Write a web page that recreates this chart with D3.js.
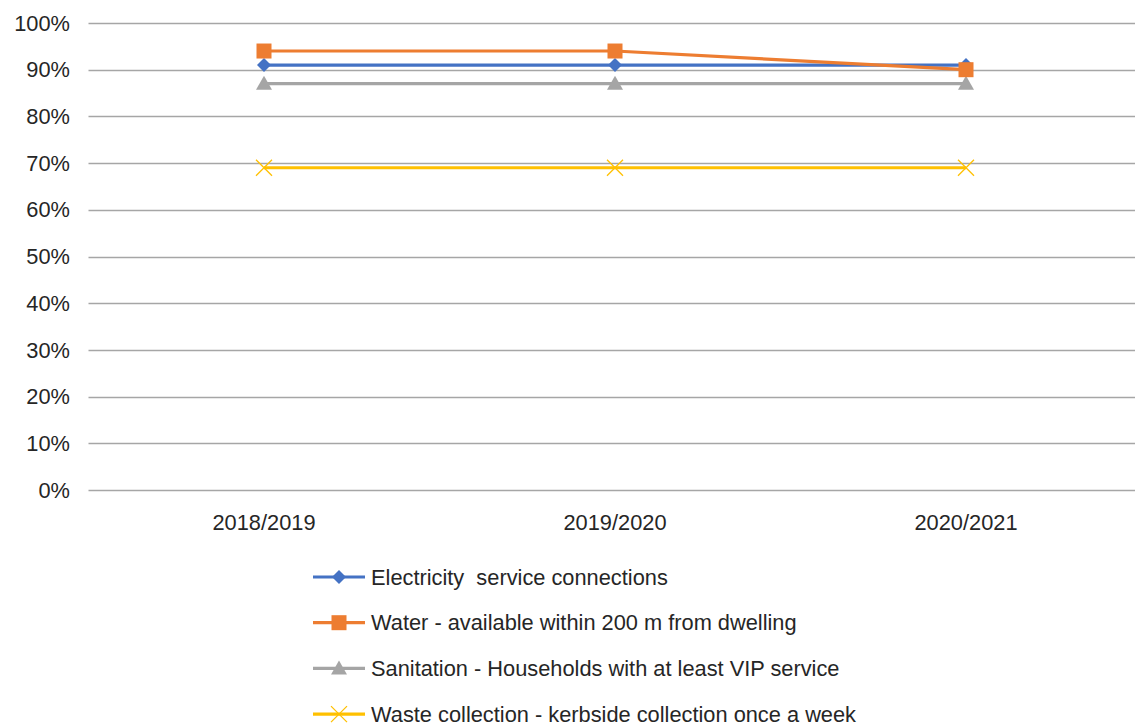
<!DOCTYPE html>
<html>
<head>
<meta charset="utf-8">
<script src="https://cdn.jsdelivr.net/npm/d3@7"></script>
<style>
  body { margin: 0; background: #fff; }
  svg text { font-family: "Liberation Sans", Arial, sans-serif; fill: #262626; }
</style>
</head>
<body>
<div id="chart-container"></div>
<script>
const years = ['2018/2019', '2019/2020', '2020/2021'];
const yTicks = [0, 10, 20, 30, 40, 50, 60, 70, 80, 90, 100];

const electricity = [91, 91, 91];
const water = [94, 94, 90];
const sanitation = [87, 87, 87];
const waste = [69, 69, 69];

const seriesNames = [
  'Electricity  service connections',
  'Water - available within 200 m from dwelling',
  'Sanitation - Households with at least VIP service',
  'Waste collection - kerbside collection once a week'
];

const series = [
  { name: seriesNames[0], values: electricity, color: '#4472C4', marker: 'diamond' },
  { name: seriesNames[1], values: water, color: '#ED7D31', marker: 'square' },
  { name: seriesNames[2], values: sanitation, color: '#A5A5A5', marker: 'triangle' },
  { name: seriesNames[3], values: waste, color: '#FFC000', marker: 'cross' }
];

const width = 1135, height = 728;
const margin = { top: 23, left: 88.5, right: -6.5, bottom: 238 };
const fontSize = 21.8;

const svg = d3.select('#chart-container')
  .append('svg')
  .attr('width', width)
  .attr('height', height);

const xScale = d3.scaleBand()
  .domain(years)
  .range([margin.left, width - margin.right]);

const yScale = d3.scaleLinear()
  .domain([0, 100])
  .range([height - margin.bottom, margin.top]);

// gridlines
svg.append('g')
  .selectAll('line')
  .data(yTicks)
  .enter()
  .append('line')
  .attr('x1', margin.left)
  .attr('x2', width - margin.right)
  .attr('y1', d => Math.round(yScale(d)) + 0.5)
  .attr('y2', d => Math.round(yScale(d)) + 0.5)
  .attr('stroke', '#a6a6a6')
  .attr('stroke-width', 1.3);

// y labels
svg.append('g')
  .selectAll('text')
  .data(yTicks)
  .enter()
  .append('text')
  .attr('x', 70)
  .attr('y', d => yScale(d))
  .attr('dy', '0.35em')
  .attr('text-anchor', 'end')
  .attr('font-size', fontSize)
  .text(d => d + '%');

// x labels
svg.append('g')
  .selectAll('text')
  .data(years)
  .enter()
  .append('text')
  .attr('x', d => xScale(d) + xScale.bandwidth() / 2)
  .attr('y', 522)
  .attr('dy', '0.35em')
  .attr('text-anchor', 'middle')
  .attr('font-size', fontSize)
  .text(d => d);

const cx = d => xScale(d) + xScale.bandwidth() / 2;

function drawMarker(g, type, color, x, y) {
  if (type === 'diamond') {
    g.append('path')
      .attr('d', `M${x},${y - 7}L${x + 7},${y}L${x},${y + 7}L${x - 7},${y}Z`)
      .attr('fill', color);
  } else if (type === 'square') {
    g.append('rect')
      .attr('x', x - 7.5).attr('y', y - 7.5)
      .attr('width', 15).attr('height', 15)
      .attr('fill', color);
  } else if (type === 'triangle') {
    g.append('path')
      .attr('d', `M${x},${y - 8}L${x + 8},${y + 6}L${x - 8},${y + 6}Z`)
      .attr('fill', color);
  } else {
    g.append('path')
      .attr('d', `M${x - 8},${y - 8}L${x + 8},${y + 8}M${x + 8},${y - 8}L${x - 8},${y + 8}`)
      .attr('stroke', color)
      .attr('stroke-width', 1.3)
      .attr('fill', 'none');
  }
}

const line = d3.line()
  .x((d, i) => cx(years[i]))
  .y(d => yScale(d));

// draw in reverse so electricity/water end up on top like the original
const drawOrder = [3, 2, 0, 1];
drawOrder.forEach(idx => {
  const s = series[idx];
  const g = svg.append('g');
  g.append('path')
    .datum(s.values)
    .attr('d', line)
    .attr('fill', 'none')
    .attr('stroke', s.color)
    .attr('stroke-width', 3.2);
  s.values.forEach((v, i) => drawMarker(g, s.marker, s.color, cx(years[i]), yScale(v)));
});

// legend
const legend = svg.append('g');
series.forEach((s, i) => {
  const y = 577 + i * 45.7;
  const g = legend.append('g');
  g.append('line')
    .attr('x1', 313).attr('x2', 365)
    .attr('y1', y).attr('y2', y)
    .attr('stroke', s.color)
    .attr('stroke-width', 3.2);
  drawMarker(g, s.marker, s.color, 339, y);
  g.append('text')
    .attr('x', 371)
    .attr('y', y)
    .attr('dy', '0.35em')
    .attr('font-size', fontSize)
    .style('white-space', 'pre')
    .text(s.name);
});
</script>
</body>
</html>
